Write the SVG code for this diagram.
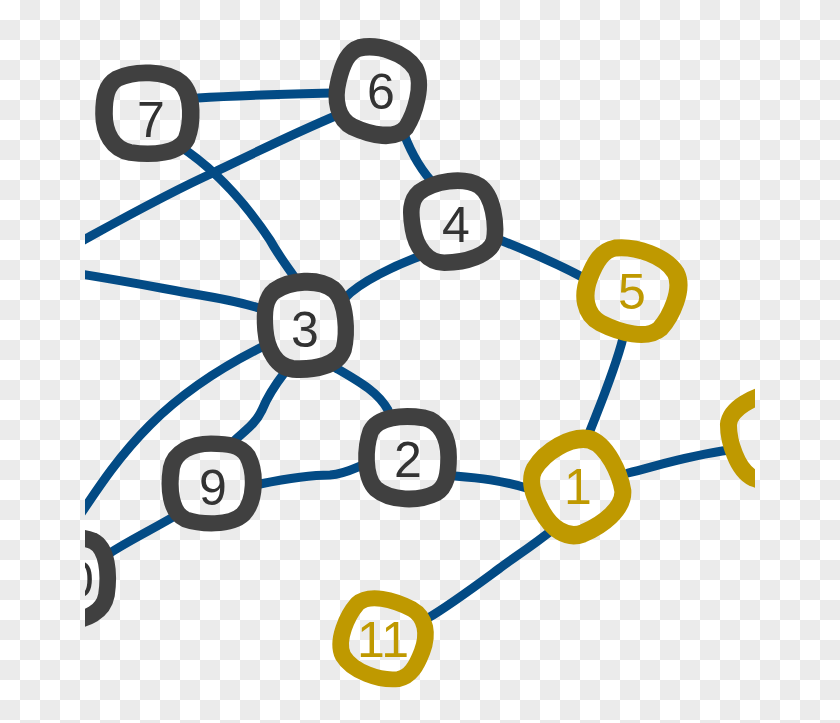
<svg xmlns="http://www.w3.org/2000/svg" xmlns:xlink="http://www.w3.org/1999/xlink" width="840" height="723" viewBox="0 0 840 723">
<defs>
<pattern id="chk" width="40" height="40" patternUnits="userSpaceOnUse">
<rect width="40" height="40" fill="#ffffff"/>
<rect x="20" y="0" width="20" height="20" fill="#ebebeb"/>
<rect x="0" y="20" width="20" height="20" fill="#ebebeb"/>
</pattern>
<clipPath id="clip"><rect x="85" y="0" width="670" height="723"/></clipPath>
<path id="ring" d="M -28,-34 C -12,-42 16,-42 30,-30 C 42,-18 40,10 35,24 C 28,38 4,40 -16,37 C -32,34 -40,18 -40,0 C -40,-16 -38,-28 -28,-34 Z"/>
</defs>
<style>
.edge{fill:none;stroke:#034b85;stroke-width:9;stroke-linecap:round;stroke-linejoin:round}
.dark{fill:none;stroke:#404040;stroke-width:16}
.gold{fill:none;stroke:#bf9900;stroke-width:16}
.lbl{font-family:"Liberation Sans",sans-serif;font-size:50px;text-anchor:middle;dominant-baseline:central}
.ld{fill:#333333}
.lg{fill:#bf9900}
</style>
<rect width="840" height="723" fill="url(#chk)"/>
<g clip-path="url(#clip)">
<g id="connectors">
<path class="edge" d="M 198,98 C 240,95 290,94 332,93"/>
<path class="edge" d="M 340,114 C 290,135 250,155 215,172 C 170,192 120,220 80,242"/>
<path class="edge" d="M 178,145 C 220,172 250,210 270,240 C 280,258 290,270 295,278"/>
<path class="edge" d="M 80,274 C 130,282 160,288 200,295 C 230,300 250,305 262,309"/>
<path class="edge" d="M 404,134 C 412,155 422,172 436,186"/>
<path class="edge" d="M 426,254 C 395,265 360,282 345,298"/>
<path class="edge" d="M 500,240 C 530,252 560,265 584,278"/>
<path class="edge" d="M 623,338 C 615,370 600,405 588,436"/>
<path class="edge" d="M 285,372 C 275,385 268,395 262,410 C 255,425 243,432 233,442"/>
<path class="edge" d="M 336,368 C 360,382 378,392 388,410"/>
<path class="edge" d="M 262,347 C 220,368 180,395 150,425 C 120,455 100,485 80,515"/>
<path class="edge" d="M 260,484 C 290,478 310,475 330,475 C 345,474 355,468 363,465"/>
<path class="edge" d="M 455,476 C 480,478 500,480 530,489"/>
<path class="edge" d="M 628,473 C 660,465 690,455 730,450"/>
<path class="edge" d="M 556,527 C 530,548 510,560 500,568 C 470,590 450,605 428,618"/>
<path class="edge" d="M 180,513 C 155,528 130,540 110,553"/>
</g>
<g id="node7"><use xlink:href="#ring" class="dark" transform="translate(148,114) scale(1.1,1.04)"/><text class="lbl ld" x="151" y="120">7</text></g>
<g id="node6"><use xlink:href="#ring" class="dark" transform="translate(378,92) scale(1.02,1.1) rotate(15)"/><text class="lbl ld" x="381" y="92">6</text></g>
<g id="node4"><use xlink:href="#ring" class="dark" transform="translate(454,222) scale(1.04,1.04) rotate(-10)"/><text class="lbl ld" x="456" y="225">4</text></g>
<g id="node5"><use xlink:href="#ring" class="gold" transform="translate(632,292) scale(1.14,1.06) rotate(20)"/><text class="lbl lg" x="632" y="292">5</text></g>
<g id="node3"><use xlink:href="#ring" class="dark" transform="translate(306,326) scale(1.02,1.12) rotate(-5)"/><text class="lbl ld" x="305" y="330">3</text></g>
<g id="node2"><use xlink:href="#ring" class="dark" transform="translate(407,457) scale(1.04,1.06) rotate(180)"/><text class="lbl ld" x="408" y="460">2</text></g>
<g id="node9"><use xlink:href="#ring" class="dark" transform="translate(211,484) scale(1.07,1.01) rotate(90)"/><text class="lbl ld" x="213" y="488">9</text></g>
<g id="node1"><use xlink:href="#ring" class="gold" transform="translate(578,487) scale(1.06,1.16) rotate(-30)"/><text class="lbl lg" x="578" y="487">1</text></g>
<g id="node11"><use xlink:href="#ring" class="gold" transform="translate(383,638) scale(1.04,0.99) rotate(200)"/><text class="lbl lg" x="383" y="640">11</text></g>
<g id="node10"><use xlink:href="#ring" class="dark" transform="translate(68,578) scale(1.04,1.06) rotate(-90)"/><text class="lbl ld" x="66" y="580">10</text></g>
<g id="node8"><use xlink:href="#ring" class="gold" transform="translate(772,436) scale(1.06,1.09) rotate(160)"/><text class="lbl lg" x="774" y="434">8</text></g>
</g>
</svg>
